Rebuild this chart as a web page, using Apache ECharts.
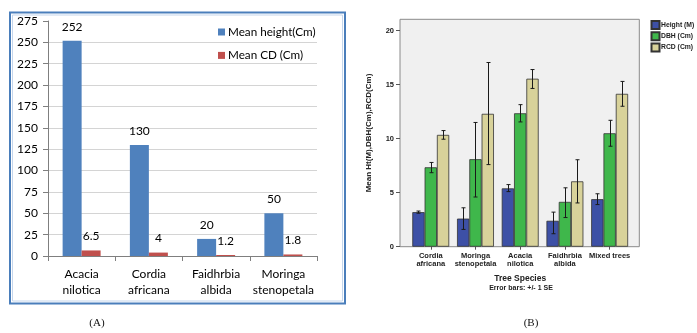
<!DOCTYPE html>
<html>
<head>
<meta charset="utf-8">
<script src="https://cdn.jsdelivr.net/npm/echarts@6/dist/echarts.min.js"></script>
<style>html,body{margin:0;padding:0;background:#fff;}#c{width:697px;height:333px;}</style>
</head>
<body>
<div id="c"></div>
<script>
// ---- Chart (A) data ----
var catsA = ['Acacia\nnilotica', 'Cordia\nafricana', 'Faidhrbia\nalbida', 'Moringa\nstenopetala'];
var meanHeight = [252, 130, 20, 50];
var meanCD = [6.5, 4, 1.2, 1.8];

// ---- Chart (B) data ----
var catsB = ['Cordia\nafricana', 'Moringa\nstenopetala', 'Acacia\nnilotica', 'Faidhrbia\nalbida', 'Mixed trees'];
var heightM = [3.2, 2.6, 5.4, 2.4, 4.4];
var heightLo = [3.1, 1.6, 5.1, 1.2, 3.9];
var heightHi = [3.3, 3.6, 5.75, 3.2, 4.9];
var dbhCm = [7.35, 8.1, 12.35, 4.15, 10.5];
var dbhLo = [6.85, 4.6, 11.55, 2.7, 9.3];
var dbhHi = [7.8, 11.5, 13.15, 5.45, 11.7];
var rcdCm = [10.35, 12.3, 15.55, 6.05, 14.15];
var rcdLo = [9.95, 7.6, 14.65, 4.05, 13.0];
var rcdHi = [10.75, 17.05, 16.4, 8.05, 15.3];

var BW = 12.3;
function errData(lo, hi, k) {
  return lo.map(function (v, i) { return [i, v, hi[i], k]; });
}
function renderErr(params, api) {
  var ci = api.value(0), lo = api.value(1), hi = api.value(2), k = api.value(3);
  var pLo = api.coord([ci, lo]), pHi = api.coord([ci, hi]);
  var x = Math.round(pLo[0] + (k - 1) * BW) + 0.5;
  var c = 2;
  var st = { stroke: '#1a1a1a', lineWidth: 1 };
  return { type: 'group', children: [
    { type: 'line', shape: { x1: x, y1: pHi[1], x2: x, y2: pLo[1] }, style: st },
    { type: 'line', shape: { x1: x - c, y1: pHi[1], x2: x + c, y2: pHi[1] }, style: st },
    { type: 'line', shape: { x1: x - c, y1: pLo[1], x2: x + c, y2: pLo[1] }, style: st }
  ]};
}

var fontA = 'Lato, "Open Sans", sans-serif';
var fontB = '"Liberation Sans", Arial, sans-serif';

var chart = echarts.init(document.getElementById('c'), null, { renderer: 'canvas' });
var labelA = { show: true, position: 'top', distance: 8, fontFamily: fontA, fontSize: 12, color: '#000' };
var barBorder = { borderColor: '#333', borderWidth: 0.8 };

chart.setOption({
  backgroundColor: '#fff',
  animation: false,
  graphic: [
    { type: 'rect', shape: { x: 10, y: 12.5, width: 335, height: 291 }, style: { fill: 'none', stroke: '#4a7ebb', lineWidth: 2 }, z: 0 },
    { type: 'rect', shape: { x: 12.5, y: 15, width: 330, height: 286 }, style: { fill: 'none', stroke: '#c5d6ec', lineWidth: 1 }, z: 0 },
    { type: 'text', x: 97, y: 323, style: { text: '(A)', font: '11px "Liberation Serif", serif', fill: '#111', textAlign: 'center', textVerticalAlign: 'middle' } },
    { type: 'text', x: 531, y: 323, style: { text: '(B)', font: '11px "Liberation Serif", serif', fill: '#111', textAlign: 'center', textVerticalAlign: 'middle' } },
    { type: 'text', x: 521, y: 288, style: { text: 'Error bars: +/- 1 SE', font: 'bold 7px "Liberation Sans", Arial, sans-serif', fill: '#222', textAlign: 'center', textVerticalAlign: 'middle' } }
  ],
  legend: [
    { data: ['Mean height(Cm)', 'Mean CD (Cm)'], orient: 'vertical', left: 218, top: 25, padding: 0, itemWidth: 7, itemHeight: 7, itemGap: 9.4,
      icon: 'rect', textStyle: { fontFamily: fontA, fontSize: 11.7, lineHeight: 14, color: '#000', padding: [0, 0, 0, -2] } },
    { data: ['Height (M)', 'DBH (Cm)', 'RCD (Cm)'], orient: 'vertical', left: 650.5, top: 20, padding: 0, itemWidth: 8, itemHeight: 8, itemGap: 1.2,
      icon: 'rect', textStyle: { fontFamily: fontB, fontSize: 6.8, lineHeight: 8, fontWeight: 'bold', color: '#222', padding: [0, 0, 0, -3.5] } }
  ],
  grid: [
    { left: 48, right: 380, top: 21, bottom: 77 },
    { left: 400, right: 57.7, top: 19.3, bottom: 86.3, show: true, backgroundColor: '#f0f0f0', borderColor: '#8a8a8a', borderWidth: 1 },
    { left: 408.4, right: 65, top: 19.3, bottom: 86.3 }
  ],
  xAxis: [
    { gridIndex: 0, type: 'category', data: catsA,
      axisLine: { lineStyle: { color: '#7f7f7f', width: 1 } },
      axisTick: { show: true, length: 5, lineStyle: { color: '#7f7f7f' } },
      axisLabel: { fontFamily: fontA, fontSize: 12, color: '#000', margin: 10, lineHeight: 16, interval: 0 } },
    { gridIndex: 1, type: 'value', show: false, min: 0, max: 1 },
    { gridIndex: 2, type: 'category', data: catsB,
      axisLine: { show: false },
      axisTick: { show: true, alignWithLabel: true, length: 3, lineStyle: { color: '#555' } },
      axisLabel: { fontFamily: fontB, fontSize: 7.5, fontWeight: 'bold', color: '#222', margin: 5, lineHeight: 8, interval: 0 },
      name: 'Tree Species', nameLocation: 'middle', nameGap: 27,
      nameTextStyle: { fontFamily: fontB, fontSize: 8.5, fontWeight: 'bold', color: '#222' } }
  ],
  yAxis: [
    { gridIndex: 0, type: 'value', min: 0, max: 275, interval: 25,
      axisLine: { show: true, lineStyle: { color: '#7f7f7f' } },
      axisTick: { show: true, length: 5, lineStyle: { color: '#7f7f7f' } },
      axisLabel: { fontFamily: fontA, fontSize: 12, color: '#000', margin: 10 },
      splitLine: { show: true, showMaxLine: false, lineStyle: { color: '#d4d4d4', width: 1 } } },
    { gridIndex: 1, type: 'value', min: 0, max: 21.05, interval: 5,
      axisLine: { show: false },
      axisTick: { show: true, length: 4, lineStyle: { color: '#555' } },
      axisLabel: { fontFamily: fontB, fontSize: 7.5, fontWeight: 'bold', color: '#222', margin: 6, showMaxLabel: false },
      splitLine: { show: false },
      name: 'Mean Ht(M),DBH(Cm),RCD(Cm)', nameLocation: 'middle', nameGap: 27, nameRotate: 90,
      nameTextStyle: { fontFamily: fontB, fontSize: 8, fontWeight: 'bold', color: '#222' } },
    { gridIndex: 2, type: 'value', min: 0, max: 21.05, show: false, splitLine: { show: false } }
  ],
  series: [
    { name: 'Mean height(Cm)', type: 'bar', xAxisIndex: 0, yAxisIndex: 0, data: meanHeight, barWidth: 19, barGap: 0,
      itemStyle: { color: '#4f81bd' }, label: labelA },
    { name: 'Mean CD (Cm)', type: 'bar', xAxisIndex: 0, yAxisIndex: 0, data: meanCD, barWidth: 19, barGap: 0,
      itemStyle: { color: '#c0504d' }, label: labelA },
    { name: 'Height (M)', type: 'bar', xAxisIndex: 2, yAxisIndex: 2, data: heightM, barWidth: BW, barGap: 0,
      itemStyle: Object.assign({ color: '#3d50a6' }, barBorder) },
    { name: 'DBH (Cm)', type: 'bar', xAxisIndex: 2, yAxisIndex: 2, data: dbhCm, barWidth: BW, barGap: 0,
      itemStyle: Object.assign({ color: '#3fb74b' }, barBorder) },
    { name: 'RCD (Cm)', type: 'bar', xAxisIndex: 2, yAxisIndex: 2, data: rcdCm, barWidth: BW, barGap: 0,
      itemStyle: Object.assign({ color: '#d8d29a' }, barBorder) },
    { name: 'errH', type: 'custom', xAxisIndex: 2, yAxisIndex: 2, data: errData(heightLo, heightHi, 0), renderItem: renderErr, z: 10, encode: { x: 0, y: [1, 2] } },
    { name: 'errD', type: 'custom', xAxisIndex: 2, yAxisIndex: 2, data: errData(dbhLo, dbhHi, 1), renderItem: renderErr, z: 10, encode: { x: 0, y: [1, 2] } },
    { name: 'errR', type: 'custom', xAxisIndex: 2, yAxisIndex: 2, data: errData(rcdLo, rcdHi, 2), renderItem: renderErr, z: 10, encode: { x: 0, y: [1, 2] } }
  ]
});
</script>
</body>
</html>
